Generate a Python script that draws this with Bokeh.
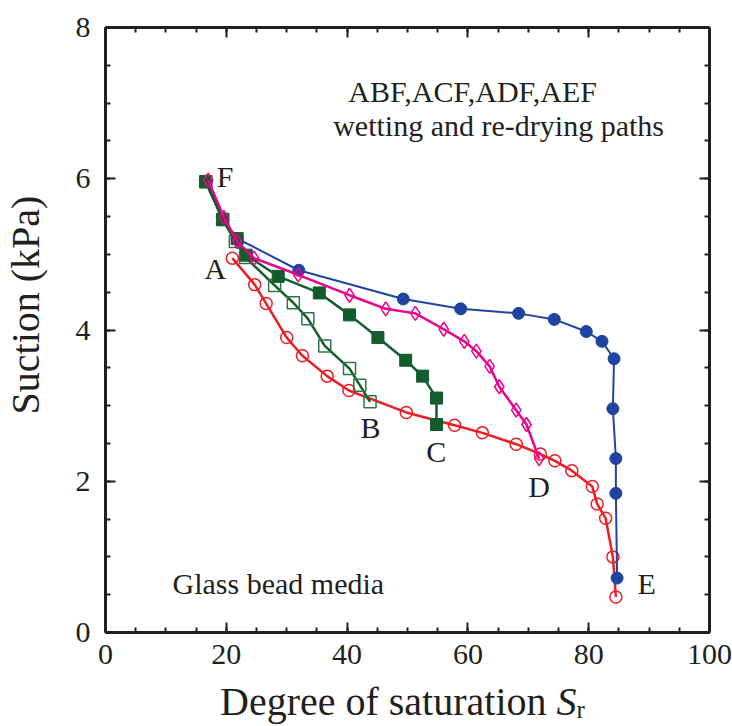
import numpy as np
from bokeh.plotting import figure
from bokeh.layouts import column
from bokeh.models import (LinearAxis, FixedTicker, Label, Range1d, Div,
                          CustomJSTickFormatter)
from bokeh.embed import file_html
from bokeh.resources import INLINE

# ---- data ----
# A -> E wetting path (red, open circles)
red_sr = [21.0, 24.7, 26.6, 30.0, 32.6, 36.7, 40.3, 49.8, 57.8, 62.4, 68.0,
          72.0, 74.4, 77.2, 80.6, 81.4, 82.8, 84.0, 84.5]
red_s = [4.95, 4.60, 4.35, 3.90, 3.66, 3.39, 3.20, 2.91, 2.74, 2.64, 2.49,
         2.36, 2.27, 2.14, 1.93, 1.70, 1.51, 1.00, 0.47]
# E -> F re-drying (blue, filled circles)
blue_sr = [84.7, 84.5, 84.5, 84.0, 84.2, 82.2, 79.6, 74.3, 68.4, 58.8, 49.3,
           32.0, 21.8, 19.4, 16.7]
blue_s = [0.72, 1.84, 2.30, 2.96, 3.62, 3.85, 3.98, 4.14, 4.22, 4.28, 4.41,
          4.79, 5.21, 5.47, 5.97]
# D -> F re-drying (magenta, open diamonds)
pink_sr = [71.8, 69.7, 68.0, 65.2, 63.6, 61.4, 59.4, 56.0, 51.3, 46.4, 40.4,
           31.9, 24.6, 21.8, 19.6, 17.0]
pink_s = [2.30, 2.75, 2.94, 3.25, 3.52, 3.72, 3.85, 4.01, 4.22, 4.28, 4.46,
          4.73, 4.95, 5.17, 5.49, 5.98]
# C -> F re-drying (green, filled squares)
gf_sr = [54.8, 54.8, 52.5, 49.7, 45.1, 40.4, 35.4, 28.6, 23.3, 21.8, 19.4, 16.6]
gf_s = [2.75, 3.10, 3.39, 3.60, 3.90, 4.20, 4.49, 4.71, 4.99, 5.21, 5.46, 5.96]
# B -> F re-drying (green, open squares)
go_sr = [43.8, 42.1, 40.4, 36.3, 33.5, 31.1, 28.0, 23.2, 21.5, 19.4, 16.6]
go_s = [3.05, 3.27, 3.49, 3.79, 4.15, 4.36, 4.59, 4.96, 5.17, 5.46, 5.96]

x_major = [0, 20, 40, 60, 80, 100]
x_minor = list(range(0, 101, 5))
y_major = [0, 2, 4, 6, 8]
y_minor = [i * 0.5 for i in range(0, 17)]

INK = "#231f20"
FONT = "Liberation Serif"
BLUE = "#1f44a0"
RED = "#ee1c25"
PINK = "#ec008c"
GREEN = "#135c2e"

p = figure(width=732, height=690, output_backend="svg", toolbar_location=None,
           x_range=Range1d(0, 100), y_range=Range1d(0, 8),
           x_axis_location=None, y_axis_location=None,
           min_border_left=105, min_border_right=23, min_border_top=27,
           min_border_bottom=58, margin=0)
p.outline_line_color = None
p.xgrid.visible = False
p.ygrid.visible = False
p.background_fill_color = "white"
p.border_fill_color = "white"

blank = CustomJSTickFormatter(code="return ''")


def style_axis(ax, labels):
    ax.axis_line_width = 3
    ax.axis_line_color = INK
    ax.major_tick_in = 10
    ax.major_tick_out = 0
    ax.minor_tick_in = 5
    ax.minor_tick_out = 0
    ax.major_tick_line_width = 2
    ax.minor_tick_line_width = 2
    ax.major_tick_line_color = INK
    ax.minor_tick_line_color = INK
    ax.major_label_text_font = FONT
    ax.major_label_text_font_size = "30px"
    ax.major_label_text_color = INK
    if not labels:
        ax.formatter = blank


xb = LinearAxis(ticker=FixedTicker(ticks=x_major, minor_ticks=x_minor))
style_axis(xb, True)
xb.major_label_standoff = 12
xt = LinearAxis(ticker=FixedTicker(ticks=x_major, minor_ticks=x_minor))
style_axis(xt, False)
yl = LinearAxis(ticker=FixedTicker(ticks=y_major, minor_ticks=y_minor))
style_axis(yl, True)
yl.major_label_standoff = 15
yr = LinearAxis(ticker=FixedTicker(ticks=y_major, minor_ticks=y_minor))
style_axis(yr, False)
p.add_layout(xb, "below")
p.add_layout(xt, "above")
p.add_layout(yl, "left")
p.add_layout(yr, "right")

# ---- series ----
p.line(red_sr, red_s, line_color=RED, line_width=2.5)
p.scatter(red_sr, red_s, marker="circle", size=12, fill_color=None,
          line_color=RED, line_width=1.5)

p.line(blue_sr, blue_s, line_color=BLUE, line_width=2)
p.scatter(blue_sr, blue_s, marker="circle", size=12, fill_color=BLUE,
          line_color=BLUE)

p.line(go_sr, go_s, line_color=GREEN, line_width=2.5)
p.scatter(go_sr, go_s, marker="square", size=12, fill_color=None,
          line_color="#2f7446", line_width=1.5)

p.line(gf_sr, gf_s, line_color=GREEN, line_width=2.5)
p.scatter(gf_sr, gf_s, marker="square", size=12, fill_color=GREEN,
          line_color=GREEN)

p.line(pink_sr, pink_s, line_color=PINK, line_width=2.5)
p.scatter(pink_sr, pink_s, marker="diamond", size=14, fill_color=None,
          line_color=PINK, line_width=1.5)


def lab(x, y, t, size="30px", style="normal", align="left"):
    p.add_layout(Label(x=x, y=y, text=t, text_font=FONT, text_font_size=size,
                       text_font_style=style, text_color=INK,
                       text_align=align, text_baseline="alphabetic"))


# point labels
lab(18.4, 6.03, "F")
lab(16.4, 4.81, "A")
lab(42.2, 2.71, "B")
lab(53.1, 2.39, "C")
lab(70.0, 1.93, "D")
lab(88.1, 0.65, "E")

# annotations
lab(40.2, 7.16, "ABF,ACF,ADF,AEF")
lab(37.7, 6.71, "wetting and re-drying paths")
lab(11.1, 0.65, "Glass bead media")

# axis titles as real HTML text (italic S with subscript r; rotated y title)
TXT = ("white-space:nowrap; font-family:'Liberation Serif'; font-size:40px; "
       "line-height:40px; color:#231f20;")
titles = Div(
    text=('<div style="position:relative; width:732px; height:36px;">'
          '<div style="position:absolute; left:220px; top:-8px; ' + TXT + '">'
          'Degree of saturation <i>S</i>'
          '<span style="font-size:25px; position:relative; top:3px;">r</span>'
          '</div>'
          '<div style="position:absolute; left:26px; top:-385px; '
          'transform:translate(-50%,-50%) rotate(-90deg); ' + TXT + '">'
          'Suction (kPa)</div>'
          '</div>'),
    width=732, height=36, margin=0)

layout = column(p, titles, spacing=0, margin=0)

open("out.html", "w").write(file_html(layout, INLINE))
